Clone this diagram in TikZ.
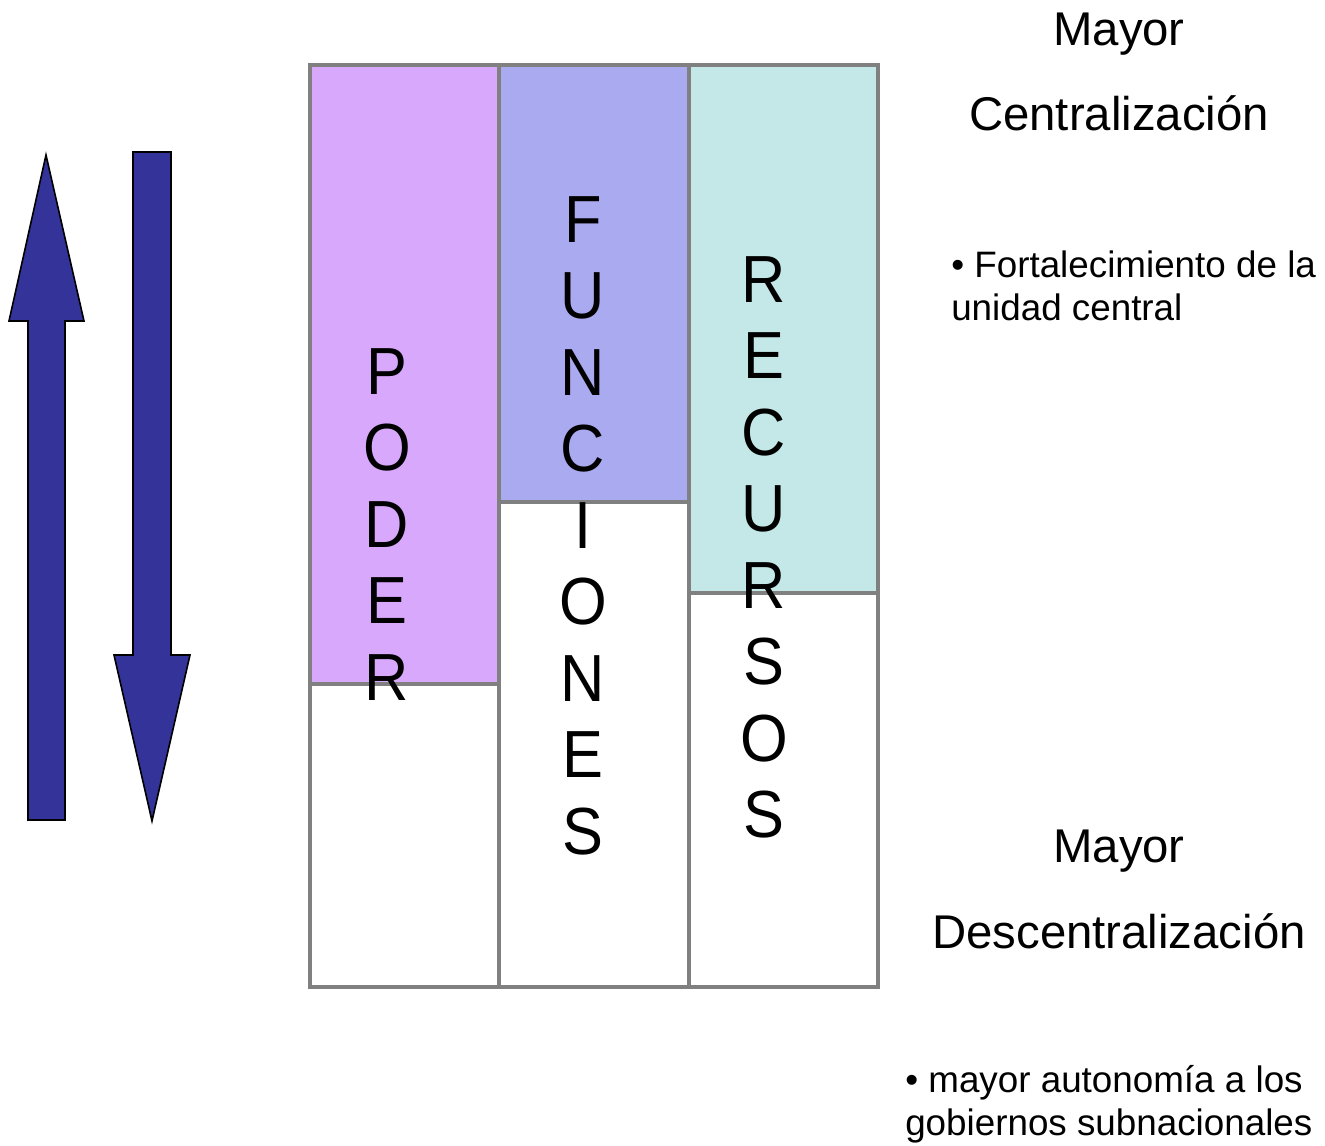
\documentclass[tikz,border=0pt]{standalone}
\usepackage{fontspec}
\setmainfont{Liberation Sans}
\definecolor{poderc}{RGB}{215,168,252}
\definecolor{funcc}{RGB}{170,170,240}
\definecolor{recc}{RGB}{196,232,232}
\definecolor{arrowc}{RGB}{51,51,153}
\definecolor{framec}{RGB}{128,128,128}
\begin{document}
\begin{tikzpicture}[x=0.75pt,y=-0.75pt,
  colframe/.style={draw=framec,line width=3pt},
  bigarrow/.style={fill=arrowc,draw=black,line width=1.2pt,line join=miter},
  letter/.style={anchor=base,inner sep=0pt,font=\fontsize{50}{60}\selectfont},
  heading/.style={anchor=base,inner sep=0pt,font=\fontsize{35.5}{42}\selectfont},
  bullet/.style={anchor=base west,inner sep=0pt,font=\fontsize{27.6}{32}\selectfont}]
\useasboundingbox (0,0) rectangle (1325,1146);
% arrows
\draw[bigarrow] (46,155) -- (84,321) -- (65,321) -- (65,820) -- (28,820) -- (28,321) -- (9,321) -- cycle;
\draw[bigarrow] (133,152) -- (171,152) -- (171,655) -- (190,655) -- (152,821) -- (114,655) -- (133,655) -- cycle;
% column fills
\fill[poderc] (310,65) rectangle (499,684);
\fill[funcc] (499,65) rectangle (689,502);
\fill[recc] (689,65) rectangle (878,593);
% frames
\draw[colframe] (310,65) rectangle (499,987);
\draw[colframe] (499,65) rectangle (689,987);
\draw[colframe] (689,65) rectangle (878,987);
\draw[colframe] (310,684) -- (499,684);
\draw[colframe] (499,502) -- (689,502);
\draw[colframe] (689,593) -- (878,593);
% letters
\foreach \ch [count=\i from 0] in {P,O,D,E,R}
  \node[letter] (pod\i) at (387,{394+76.5*\i}) {\scalebox{0.92}[1]{\ch}};
\foreach \ch [count=\i from 0] in {F,U,N,C,I,O,N,E,S}
  \node[letter] (fun\i) at (583,{242+76.5*\i}) {\scalebox{0.92}[1]{\ch}};
\foreach \ch [count=\i from 0] in {R,E,C,U,R,S,O,S}
  \node[letter] (rec\i) at (764,{302+76.5*\i}) {\scalebox{0.92}[1]{\ch}};
% right texts
\node[heading] (may1) at (1119,45) {Mayor};
\node[heading] (cent) at (1119,130) {Centralización};
\node[heading] (may2) at (1119,862) {Mayor};
\node[heading] (desc) at (1119,948) {Descentralización};
\node[bullet] (b1a) at (951,277) {• Fortalecimiento de la};
\node[bullet] (b1b) at (951,320) {unidad central};
\node[bullet] (b2a) at (905,1092) {• mayor autonomía a los};
\node[bullet] (b2b) at (905,1135) {gobiernos subnacionales};
\end{tikzpicture}
\end{document}
